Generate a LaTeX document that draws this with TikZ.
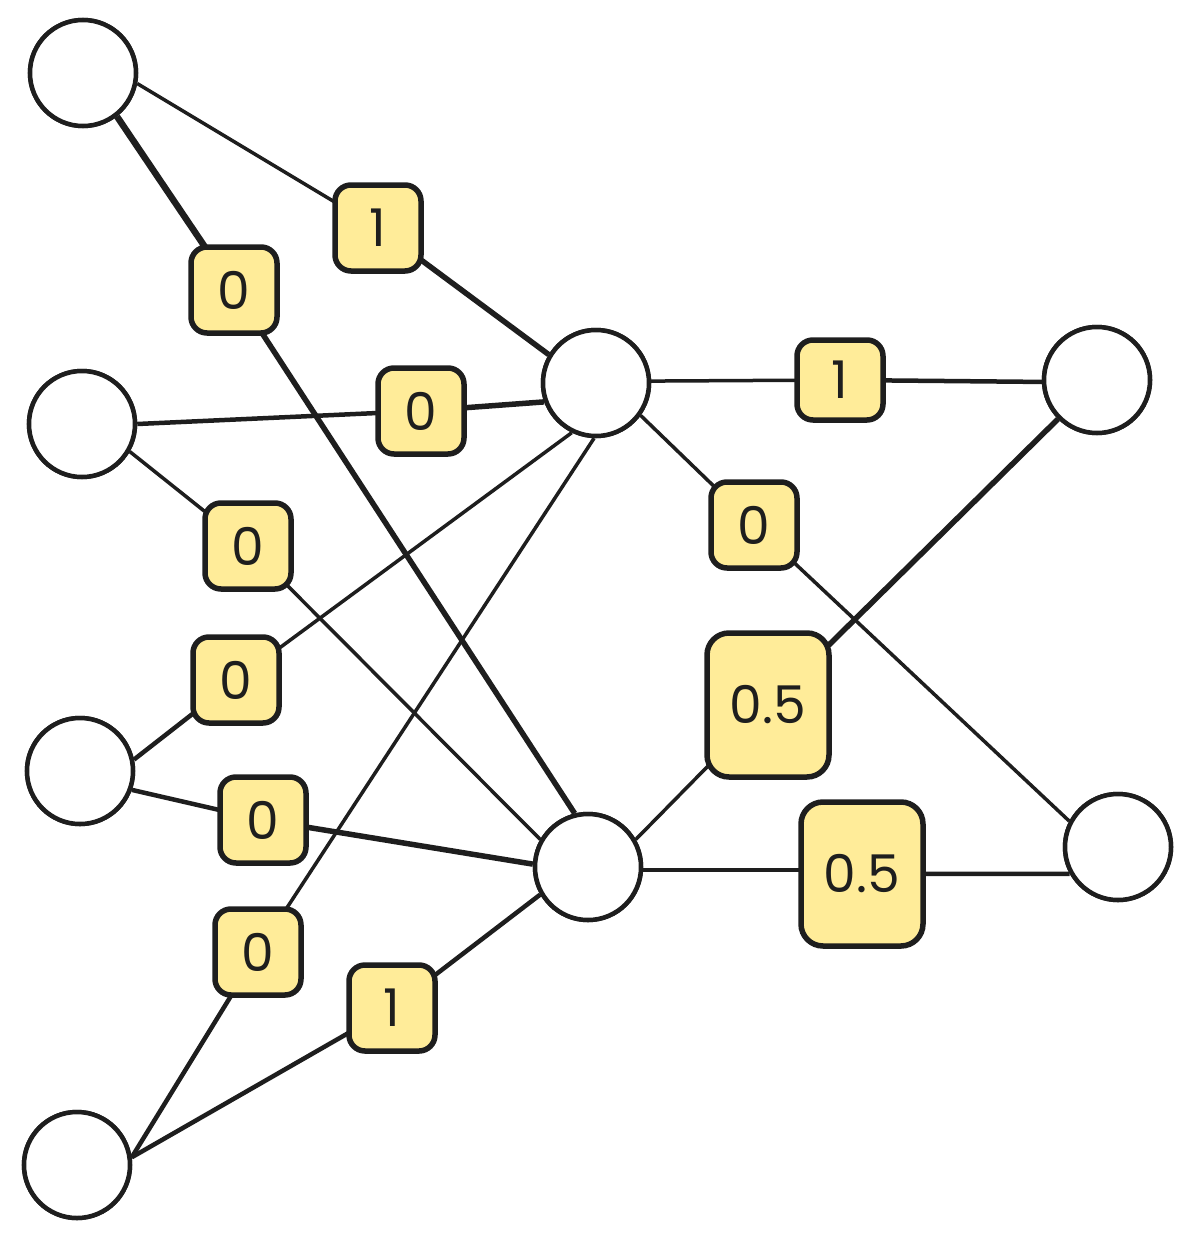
\documentclass[tikz,border=0pt]{standalone}
\usepackage{fontspec}
\setmainfont{Poppins}
\definecolor{ink}{HTML}{1E1E1E}
\definecolor{pad}{HTML}{FFEC99}
\begin{document}
\begin{tikzpicture}[x=1pt,y=-1pt,
  neuron/.style={circle,draw=ink,line width=4.5pt,fill=white,minimum size=106pt,inner sep=0pt},
  wlabel/.style={rectangle,rounded corners=16pt,draw=ink,line width=5.5pt,fill=pad,
    minimum width=86pt,minimum height=86pt,inner sep=0pt,text=ink,
    font=\fontsize{52}{52}\selectfont},
  wbig/.style={wlabel,minimum width=122pt,minimum height=144pt,rounded corners=22pt},
  thin/.style={draw=ink,line width=3.5pt},
  mid/.style={draw=ink,line width=4.5pt},
  thick/.style={draw=ink,line width=5.5pt},
  xthick/.style={draw=ink,line width=6.5pt}]
\useasboundingbox (0,0) rectangle (1192,1242);
% neurons
\node[neuron] (A1) at (83,73) {};
\node[neuron] (A2) at (82,424) {};
\node[neuron] (A3) at (80,771) {};
\node[neuron] (A4) at (77,1165) {};
\node[neuron] (H1) at (596,383) {};
\node[neuron] (H2) at (588,867) {};
\node[neuron] (O1) at (1097,380) {};
\node[neuron] (O2) at (1118,847) {};
% label positions
\coordinate (c1) at (378,228);
\coordinate (c2) at (234,290);
\coordinate (c3) at (421,411);
\coordinate (c4) at (248,546);
\coordinate (c5) at (236,680);
\coordinate (c6) at (263,820);
\coordinate (c7) at (258,952);
\coordinate (c8) at (392,1008);
\coordinate (c9) at (840,380);
\coordinate (c10) at (754,525);
\coordinate (c11) at (768,705);
\coordinate (c12) at (862,874);
% connectors
\path[thin] (A1.-11) -- (c1); \path[thick] (c1) -- (H1.149);
\path[xthick] (A1.-52) -- (c2); \path[thick] (c2) -- (H2.104);
\path[mid] (A2.0) -- (c3); \path[thick] (c3) -- (H1.200);
\path[thin] (A2.-30) -- (c4); \path[thin] (c4) -- (H2.150);
\path[mid] (A3.12) -- (c5); \path[thin] (c5) -- (H1.244);
\path[mid] (A3.-20) -- (c6); \path[thick] (c6) -- (H2.177);
\path[mid] (A4.8) -- (c7); \path[thin] (c7) -- (H1.268);
\path[mid] (A4.8) -- (c8); \path[mid] (c8) -- (H2.210);
\path[thin] (H1.2) -- (c9); \path[mid] (c9) -- (O1.182);
\path[thin] (H1.-36) -- (c10); \path[thin] (c10) -- (O2.152);
\path[thin] (H2.30) -- (c11); \path[thick] (c11) -- (O1.225);
\path[thin] (H2.-3) -- (c12 |- H2.-3); \path[mid] (c12) -- (O2.209);
% redraw neurons on top
\foreach \p in {(83,73),(82,424),(80,771),(77,1165),(596,383),(588,867),(1097,380),(1118,847)}
  \node[neuron] at \p {};
% labels
\node[wlabel] (l1) at (c1) {1};
\node[wlabel] (l2) at (c2) {0};
\node[wlabel] (l3) at (c3) {0};
\node[wlabel] (l4) at (c4) {0};
\node[wlabel] (l5) at (c5) {0};
\node[wlabel] (l6) at (c6) {0};
\node[wlabel] (l7) at (c7) {0};
\node[wlabel] (l8) at (c8) {1};
\node[wlabel,minimum height=80pt] (l9) at (c9) {1};
\node[wlabel] (l10) at (c10) {0};
\node[wbig] (l11) at (c11) {0.5};
\node[wbig] (l12) at (c12) {0.5};
\end{tikzpicture}
\end{document}
